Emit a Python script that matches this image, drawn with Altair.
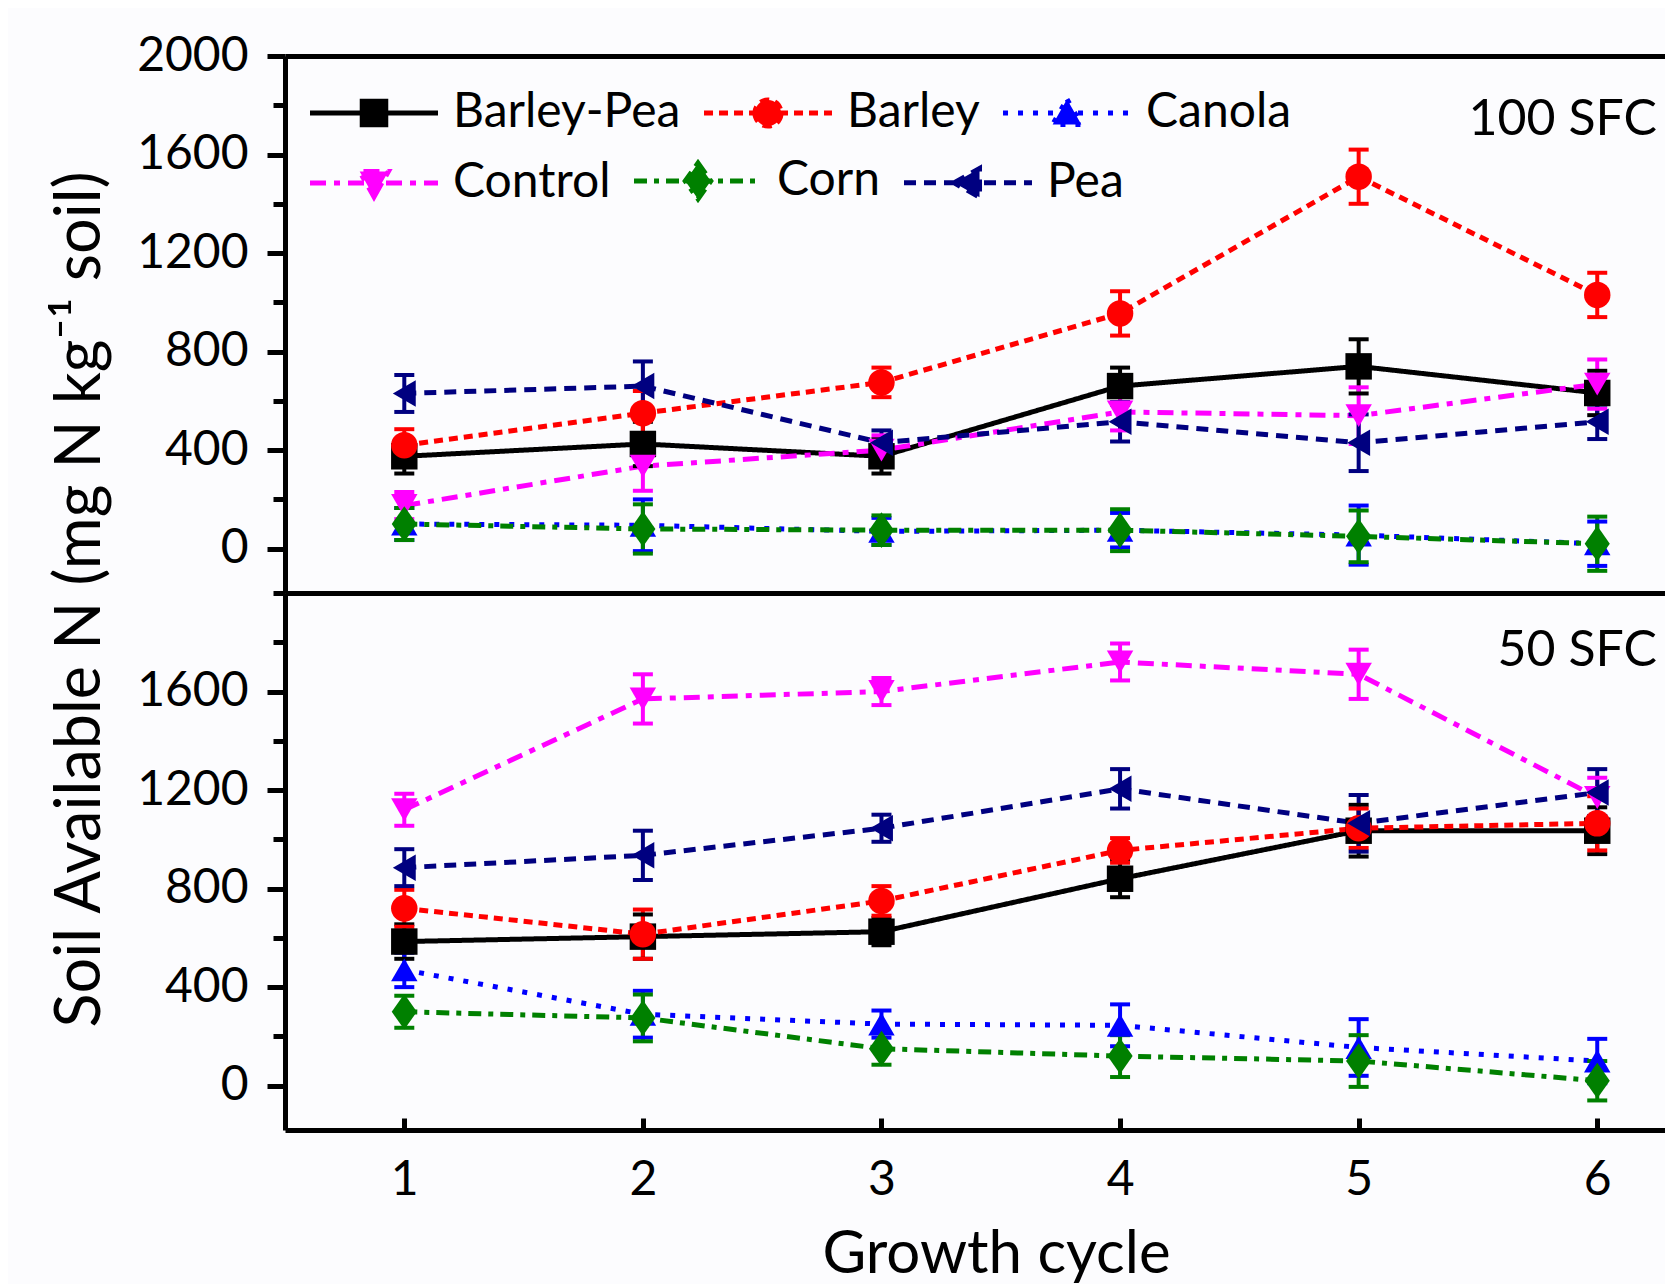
import altair as alt
import pandas as pd

# ---------------- data ----------------
cycles = [1, 2, 3, 4, 5, 6]
series = ["Barley-Pea", "Barley", "Canola", "Control", "Corn", "Pea"]
legend_row1 = ["Barley-Pea", "Barley", "Canola"]
legend_row2 = ["Control", "Corn", "Pea"]
panels = ["100 SFC", "50 SFC"]

# 100 SFC panel: means
sfc100_barley_pea = [375, 425, 375, 660, 740, 632]
sfc100_barley = [420, 550, 675, 955, 1510, 1030]
sfc100_canola = [100, 95, 70, 75, 55, 20]
sfc100_control = [175, 335, 400, 555, 540, 668]
sfc100_corn = [100, 80, 75, 75, 50, 20]
sfc100_pea = [630, 660, 430, 515, 430, 515]
# 100 SFC panel: error bars (+/-)
sfc100_barley_pea_err = [70, 90, 70, 75, 110, 90]
sfc100_barley_err = [65, 90, 60, 90, 110, 90]
sfc100_canola_err = [65, 105, 55, 70, 120, 90]
sfc100_control_err = [55, 100, 60, 75, 115, 100]
sfc100_corn_err = [65, 100, 60, 85, 105, 110]
sfc100_pea_err = [75, 100, 50, 80, 115, 70]

# 50 SFC panel: means
sfc50_barley_pea = [585, 605, 625, 840, 1035, 1035]
sfc50_barley = [720, 615, 750, 955, 1045, 1065]
sfc50_canola = [470, 290, 250, 245, 155, 100]
sfc50_control = [1120, 1570, 1600, 1720, 1670, 1170]
sfc50_corn = [300, 275, 150, 120, 100, 20]
sfc50_pea = [885, 935, 1045, 1205, 1065, 1190]
# 50 SFC panel: error bars (+/-)
sfc50_barley_pea_err = [70, 90, 55, 75, 105, 95]
sfc50_barley_err = [75, 100, 60, 50, 80, 110]
sfc50_canola_err = [70, 95, 55, 85, 115, 90]
sfc50_control_err = [65, 100, 55, 75, 100, 80]
sfc50_corn_err = [65, 95, 65, 85, 105, 80]
sfc50_pea_err = [75, 100, 55, 80, 115, 95]

y_major_100 = [0, 400, 800, 1200, 1600, 2000]
y_minor_100 = [200, 600, 1000, 1400, 1800]
y_major_50 = [0, 400, 800, 1200, 1600]
y_minor_50 = [200, 600, 1000, 1400, 1800, 2000]
x_ticks = [1, 2, 3, 4, 5, 6]

y_title = "Soil Available N (mg N kg\u207b\u00b9 soil)"
x_title = "Growth cycle"

# ---------------- styles ----------------
FONT = "Lato"
colors = ["#000000", "#FF0000", "#0000FF", "#FF00FF", "#008000", "#000080"]
dashes = [[1, 0], [9, 6], [5, 10], [16, 8, 6, 8], [13, 7, 5, 7], [12, 8]]
shapes = ["square", "circle", "triangle-up", "triangle-down",
          "M0,-1.35L0.95,0L0,1.35L-0.95,0Z", "triangle-left"]
# legend glyphs: a line segment with the marker in the middle
LINE = "M-5,0H5"
legend_glyphs = [
    LINE + "M-0.92,-0.92H0.92V0.92H-0.92Z",
    LINE + "M-1.02,0A1.02,1.02 0 1,0 1.02,0A1.02,1.02 0 1,0 -1.02,0Z",
    LINE + "M0,-1.08L1.12,0.9H-1.12Z",
    LINE + "M0,1.08L1.12,-0.9H-1.12Z",
    LINE + "M0,-1.4L1.0,0L0,1.4L-1.0,0Z",
    LINE + "M-1.08,0L0.9,-1.12V1.12Z",
]


def build_frame(means, errs):
    rows = []
    for s_i, s in enumerate(series):
        for c_i, c in enumerate(cycles):
            v = means[s_i][c_i]
            e = errs[s_i][c_i]
            rows.append({"series": s, "order": s_i, "cycle": c, "value": v,
                         "lo": v - e, "hi": v + e})
    return pd.DataFrame(rows)


df100 = build_frame(
    [sfc100_barley_pea, sfc100_barley, sfc100_canola, sfc100_control, sfc100_corn, sfc100_pea],
    [sfc100_barley_pea_err, sfc100_barley_err, sfc100_canola_err, sfc100_control_err,
     sfc100_corn_err, sfc100_pea_err])
df50 = build_frame(
    [sfc50_barley_pea, sfc50_barley, sfc50_canola, sfc50_control, sfc50_corn, sfc50_pea],
    [sfc50_barley_pea_err, sfc50_barley_err, sfc50_canola_err, sfc50_control_err,
     sfc50_corn_err, sfc50_pea_err])

color_scale = alt.Scale(domain=series, range=colors)
dash_scale = alt.Scale(domain=series, range=dashes)
shape_scale = alt.Scale(domain=series, range=shapes)
glyph_scale = alt.Scale(domain=series, range=legend_glyphs)
x_scale = alt.Scale(domain=[0.5, 6.284], nice=False, zero=False)
y_scale = alt.Scale(domain=[-180, 2000], nice=False, zero=False)

W, H = 1380, 537


def frame_axis(orient):
    return alt.Axis(orient=orient, domain=True, domainWidth=5, domainColor="black",
                    ticks=False, labels=False, grid=False, title=None)


def legend_layer(df, row_values, legend_y):
    leg = alt.Legend(
        title=None, orient="none", legendX=25, legendY=legend_y,
        direction="horizontal", values=row_values,
        symbolSize=655, symbolStrokeWidth=5, symbolOffset=40, labelOffset=55,
        symbolOpacity=1, symbolFillColor="black", symbolStrokeColor="black",
        labelFont=FONT, labelFontSize=48, labelColor="black", labelLimit=0,
        columnPadding=13, padding=0)
    sub = df[df["series"].isin(row_values)]
    return alt.Chart(sub).mark_point(opacity=0, filled=False).encode(
        x=alt.X("cycle:Q", scale=x_scale, axis=None),
        y=alt.Y("value:Q", scale=y_scale, axis=None),
        fill=alt.Fill("series:N", scale=color_scale, legend=leg),
        stroke=alt.Stroke("series:N", scale=color_scale, legend=leg),
        strokeDash=alt.StrokeDash("series:N", scale=dash_scale, legend=leg),
        shape=alt.Shape("series:N", scale=glyph_scale, legend=leg),
    )


def panel(df, label, y_major, y_minor, is_top):
    base = alt.Chart(df)

    y_major_axis = alt.Axis(
        orient="left", values=y_major, format="d", tickSize=18, tickWidth=5,
        tickColor="black", domain=True, domainWidth=5, domainColor="black",
        labelFont=FONT, labelFontSize=48, labelColor="black", labelPadding=19,
        grid=False,
        title=y_title if is_top else None,
        titleFont=FONT, titleFontSize=63, titleFontWeight="normal", titleColor="black",
        titleX=-205, titleY=543, titleAngle=270, titleAlign="center",
        titleBaseline="middle")
    y_minor_axis = alt.Axis(
        orient="left", values=y_minor, tickSize=12, tickWidth=5, tickColor="black",
        domain=False, labels=False, grid=False, title=None)

    if is_top:
        x_line_axis = frame_axis("bottom")
        x_point_axis = frame_axis("top")
    else:
        x_line_axis = frame_axis("bottom")
        x_point_axis = alt.Axis(
            orient="bottom", offset=-12, values=x_ticks, format="d", domain=False,
            ticks=True, tickSize=12, tickWidth=5, tickColor="black",
            labelFont=FONT, labelFontSize=48, labelColor="black", labelPadding=26,
            grid=False, title=x_title, titleFont=FONT, titleFontSize=60,
            titleFontWeight="normal", titleColor="black", titleX=711, titleY=154,
            titleBaseline="alphabetic", titleAlign="center")

    lines = base.mark_line(strokeWidth=5).encode(
        x=alt.X("cycle:Q", scale=x_scale, axis=x_line_axis),
        y=alt.Y("value:Q", scale=y_scale, axis=y_major_axis),
        color=alt.Color("series:N", scale=color_scale, legend=None),
        strokeDash=alt.StrokeDash("series:N", scale=dash_scale, legend=None),
        order=alt.Order("cycle:Q"),
    )
    bars = base.mark_rule(strokeWidth=4).encode(
        x=alt.X("cycle:Q", scale=x_scale, axis=None),
        y=alt.Y("lo:Q", scale=y_scale, axis=None),
        y2="hi:Q",
        color=alt.Color("series:N", scale=color_scale, legend=None),
    )
    caps = base.transform_fold(["lo", "hi"], as_=["end", "cap"]).mark_tick(
        orient="horizontal", size=20, thickness=4, opacity=1).encode(
        x=alt.X("cycle:Q", scale=x_scale, axis=None),
        y=alt.Y("cap:Q", scale=y_scale, axis=None),
        color=alt.Color("series:N", scale=color_scale, legend=None),
    )
    points = base.mark_point(filled=True, opacity=1, size=700).encode(
        x=alt.X("cycle:Q", scale=x_scale, axis=x_point_axis),
        y=alt.Y("value:Q", scale=y_scale, axis=y_minor_axis),
        color=alt.Color("series:N", scale=color_scale, legend=None),
        shape=alt.Shape("series:N", scale=shape_scale, legend=None),
    )
    text = alt.Chart(pd.DataFrame({"label": [label]})).mark_text(
        font=FONT, fontSize=50, color="black", align="right", baseline="middle").encode(
        x=alt.XDatum(6.25, scale=x_scale, axis=None),
        y=alt.YDatum(1740 if is_top else 1765, scale=y_scale, axis=None),
        text="label:N",
    )
    layers = [lines, bars, caps, points, text]
    if is_top:
        layers += [legend_layer(df, legend_row1, 33), legend_layer(df, legend_row2, 101)]
    return alt.layer(*layers).properties(
        width=W, height=H
    ).resolve_scale(shape="independent").resolve_axis(
        x="independent", y="independent").resolve_legend(
        color="independent", shape="independent", strokeDash="independent",
        fill="independent", stroke="independent")


top = panel(df100, panels[0], y_major_100, y_minor_100, True)
bottom = panel(df50, panels[1], y_major_50, y_minor_50, False)

chart = alt.vconcat(top, bottom, spacing=0, bounds="flush").resolve_legend(
    color="independent", shape="independent", strokeDash="independent",
    fill="independent", stroke="independent"
).properties(
    padding={"left": 40, "top": 24, "right": 0, "bottom": 0},
    background="#FCFCFE",
).configure_view(stroke=None)

chart.save("out.html", embed_options={"renderer": "svg", "actions": False})
